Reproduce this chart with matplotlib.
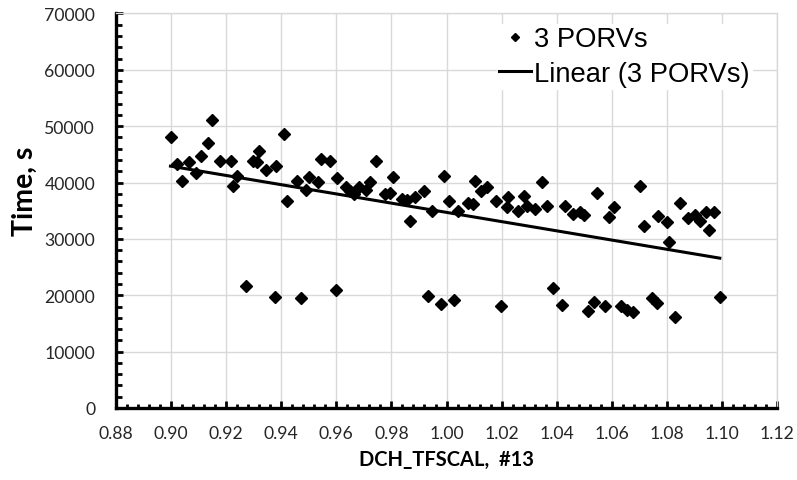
import numpy as np
import matplotlib
matplotlib.use("Agg")
import matplotlib.pyplot as plt
from matplotlib.ticker import MultipleLocator, FormatStrFormatter

# upper cluster of runs
x_upper = [
    0.8998, 0.9022, 0.9038, 0.9066, 0.9090, 0.9109, 0.9133, 0.9150, 0.9178, 0.9216,
    0.9226, 0.9241, 0.9298, 0.9311, 0.9319, 0.9345, 0.9381, 0.9410, 0.9422, 0.9458,
    0.9490, 0.9502, 0.9534, 0.9544, 0.9577, 0.9601, 0.9635, 0.9649, 0.9664, 0.9682,
    0.9707, 0.9722, 0.9743, 0.9776, 0.9795, 0.9806, 0.9837, 0.9855, 0.9867, 0.9885,
    0.9918, 0.9946, 0.9991, 1.0010, 1.0043, 1.0077, 1.0097, 1.0105, 1.0125, 1.0148,
    1.0179, 1.0224, 1.0220, 1.0258, 1.0282, 1.0293, 1.0321, 1.0348, 1.0366, 1.0430,
    1.0460, 1.0484, 1.0500, 1.0547, 1.0590, 1.0608, 1.0702, 1.0718, 1.0769, 1.0799,
    1.0808, 1.0847, 1.0877, 1.0902, 1.0920, 1.0941, 1.0954, 1.0972,
]
y_upper = [
    48000, 43260, 40300, 43670, 41610, 44620, 46930, 51060, 43740, 43740,
    39420, 41190, 43850, 43560, 45620, 42200, 42960, 48580, 36650, 40190,
    38710, 40900, 40020, 44150, 43740, 40780, 39130, 38530, 37940, 39240,
    38710, 40120, 43740, 37940, 38120, 41010, 37060, 36880, 33210, 37470,
    38420, 34990, 41080, 36760, 34990, 36350, 36170, 40300, 38530, 39130,
    36760, 37360, 35580, 34990, 37540, 35870, 35280, 40020, 35870, 35760,
    34400, 34810, 34220, 38120, 33810, 35690, 39420, 32220, 33990, 33030,
    29490, 36350, 33690, 34220, 33210, 34810, 31560, 34810,
]

# lower cluster of runs
x_lower = [
    0.9272, 0.9376, 0.9472, 0.9599, 0.9934, 0.9979, 1.0027, 1.0197, 1.0387, 1.0419,
    1.0512, 1.0536, 1.0575, 1.0633, 1.0656, 1.0678, 1.0745, 1.0765, 1.0829, 1.0992,
]
y_lower = [
    21570, 19680, 19560, 20920, 19800, 18440, 19200, 18140, 21330, 18320,
    17250, 18850, 18140, 18140, 17430, 16970, 19450, 18620, 16190, 19630,
]

x_all = np.array(x_upper + x_lower)
y_all = np.array(y_upper + y_lower)

# Excel style linear trendline over all points
slope, intercept = np.polyfit(x_all, y_all, 1)
x_fit = np.array([x_all.min(), x_all.max()])
y_fit = slope * x_fit + intercept

tick_font = "Lato"
grid_color = "#d9d9d9"

fig = plt.figure(figsize=(7.97, 4.81), dpi=100)
ax = fig.add_axes([0.1455, 0.1497, 0.8295, 0.8203])

ax.plot(x_all, y_all, linestyle="none", marker="D", markersize=6.2,
        color="black", label="3 PORVs", zorder=3)
ax.plot(x_fit, y_fit, color="black", linewidth=2.2, label="Linear (3 PORVs)", zorder=4)

ax.set_xlim(0.88, 1.12)
ax.set_ylim(0, 70000)
ax.xaxis.set_major_locator(MultipleLocator(0.02))
ax.xaxis.set_minor_locator(MultipleLocator(0.004))
ax.yaxis.set_major_locator(MultipleLocator(10000))
ax.yaxis.set_minor_locator(MultipleLocator(2000))
ax.xaxis.set_major_formatter(FormatStrFormatter("%.2f"))

ax.grid(True, which="major", color=grid_color, linewidth=1.0, zorder=0)
ax.set_axisbelow(True)

for side in ("top", "right"):
    ax.spines[side].set_color(grid_color)
    ax.spines[side].set_linewidth(1.0)
for side in ("left", "bottom"):
    ax.spines[side].set_color("black")
    ax.spines[side].set_linewidth(2.4)

ax.tick_params(axis="both", which="major", direction="in", length=5, width=2.0,
               labelsize=12.7, colors="black")
ax.tick_params(axis="both", which="minor", direction="in", length=4, width=2.0)
ax.tick_params(axis="x", which="minor", length=3)
ax.tick_params(axis="x", which="major", pad=12)
ax.tick_params(axis="y", which="major", pad=15)
for lbl in ax.get_xticklabels() + ax.get_yticklabels():
    lbl.set_fontfamily(tick_font)
    lbl.set_color("#262626")

ax.set_xlabel("DCH_TFSCAL,  #13", fontfamily=tick_font, fontsize=14.5,
              fontweight="bold", labelpad=6)
ax.set_ylabel("Time, s", fontfamily=tick_font, fontsize=20.5, fontweight="bold")
ax.yaxis.set_label_coords(-0.118, 0.552)

leg = ax.legend(loc="upper right", bbox_to_anchor=(1 - 17 / 661, 1 - 2 / 394.5),
                frameon=True, fancybox=False, framealpha=1.0,
                edgecolor="white", facecolor="white",
                prop={"family": "Liberation Sans", "size": 19.7},
                handlelength=1.15, handletextpad=0.1, labelspacing=0.3,
                borderpad=0.1, borderaxespad=0.3, markerscale=0.65)

fig.savefig("out.png", dpi=100)
